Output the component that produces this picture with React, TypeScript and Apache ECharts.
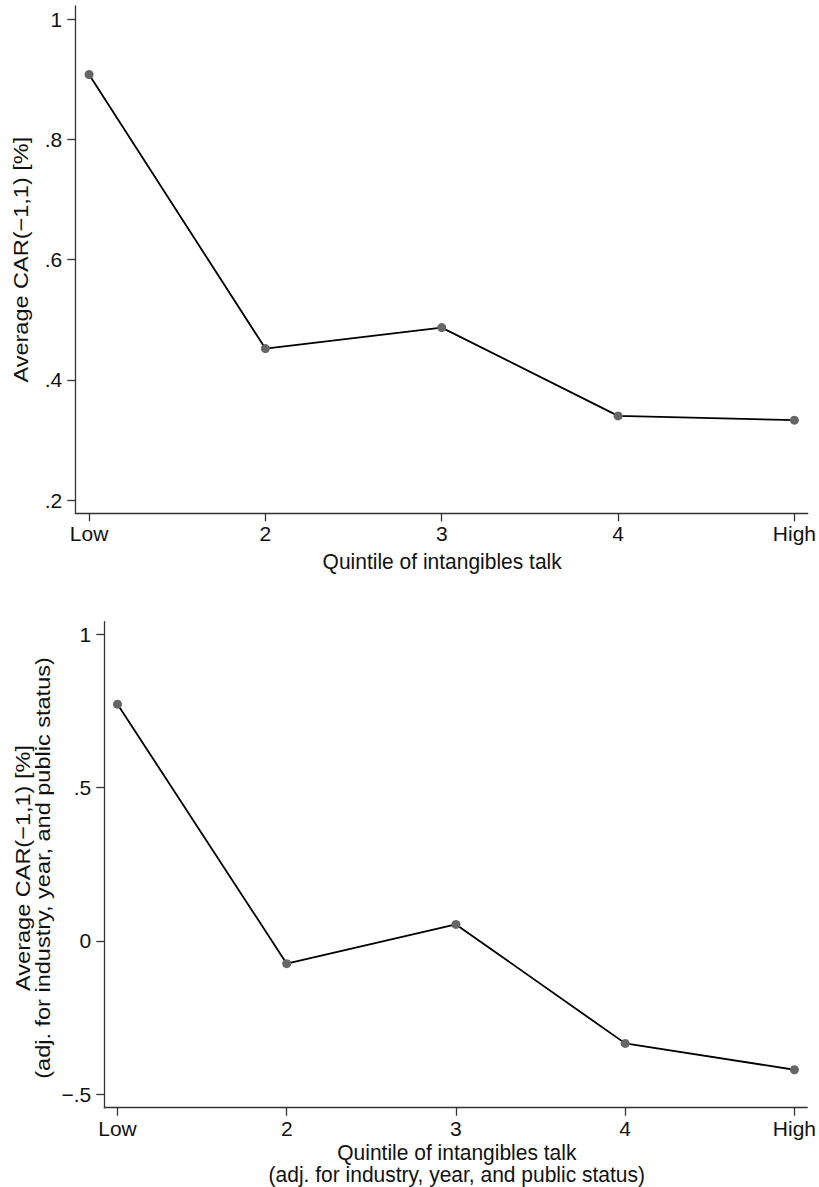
import React, { useEffect, useRef } from "react";
import * as echarts from "echarts";

const categories = ["Low", "2", "3", "4", "High"];
const categoryPositions = [0, 1, 2, 3, 4];

const topValues = [0.908, 0.452, 0.487, 0.34, 0.333];
const bottomValues = [0.772, -0.074, 0.054, -0.334, -0.42];

const topYTicks = [0.2, 0.4, 0.6, 0.8, 1];
const topYTickLabels = [".2", ".4", ".6", ".8", "1"];
const bottomYTicks = [-0.5, 0, 0.5, 1];
const bottomYTickLabels = ["\u2212.5", "0", ".5", "1"];

const topYTitle = "Average CAR(\u22121,1) [%]";
const bottomYTitle1 = "Average CAR(\u22121,1) [%]";
const bottomYTitle2 = "(adj. for industry, year, and public status)";
const topXTitle = "Quintile of intangibles talk";
const bottomXTitle1 = "Quintile of intangibles talk";
const bottomXTitle2 = "(adj. for industry, year, and public status)";

const FONT = '"Liberation Sans", Arial, Helvetica, sans-serif';
const TEXT = "#111";
const AXIS = "#333";
const FS = 21;

function labelFor(ticks: number[], labels: string[]) {
  return (v: number) => {
    const i = ticks.findIndex((t) => Math.abs(t - v) < 1e-6);
    return i >= 0 ? labels[i] : "";
  };
}

function makeX(gridIndex: number) {
  return {
    gridIndex,
    type: "value",
    min: -0.078,
    max: 4.076,
    axisLine: { show: true, onZero: false, lineStyle: { color: AXIS, width: 1.3 } },
    axisTick: { show: true, customValues: categoryPositions, length: 8, lineStyle: { color: AXIS, width: 1.3 } },
    axisLabel: {
      customValues: categoryPositions,
      formatter: (v: number) => categories[Math.round(v)],
      margin: 10,
      fontSize: FS,
      fontFamily: FONT,
      color: TEXT,
    },
    splitLine: { show: false },
  };
}

function makeY(gridIndex: number, min: number, max: number, ticks: number[], labels: string[]) {
  return {
    gridIndex,
    type: "value",
    min,
    max,
    axisLine: { show: true, onZero: false, lineStyle: { color: AXIS, width: 1.3 } },
    axisTick: { show: true, customValues: ticks, length: 8, lineStyle: { color: AXIS, width: 1.3 } },
    axisLabel: {
      customValues: ticks,
      formatter: labelFor(ticks, labels),
      margin: 13,
      fontSize: FS,
      fontFamily: FONT,
      color: TEXT,
    },
    splitLine: { show: false },
  };
}

function makeSeries(idx: number, values: number[]) {
  return {
    type: "line",
    xAxisIndex: idx,
    yAxisIndex: idx,
    data: values.map((v, i) => [categoryPositions[i], v]),
    symbol: "circle",
    symbolSize: 9,
    itemStyle: { color: "#666666" },
    lineStyle: { color: "#000000", width: 1.8 },
    emphasis: { disabled: true },
  };
}

function titleText(text: string, x: number, y: number, rotate: boolean) {
  return {
    type: "text",
    x,
    y,
    rotation: rotate ? Math.PI / 2 : 0,
    scaleX: rotate ? 1.12 : 1,
    scaleY: rotate ? 1 : 1.08,
    style: {
      text,
      fontSize: FS,
      fontFamily: FONT,
      fill: TEXT,
      align: "center",
      verticalAlign: "middle",
      textAlign: "center",
      textVerticalAlign: "middle",
    },
  };
}

export default function App() {
  const ref = useRef<HTMLDivElement>(null);
  useEffect(() => {
    document.body.style.margin = "0";
    const chart = echarts.init(ref.current!, null, { renderer: "svg" });
    const g0 = { left: 75.3, top: 6, width: 733.7, height: 507.3 };
    const g1 = { left: 104.3, top: 621.7, width: 705, height: 486 };
    chart.setOption({
      animation: false,
      backgroundColor: "#ffffff",
      grid: [g0, g1].map((g) => ({ ...g, containLabel: false })),
      xAxis: [makeX(0), makeX(1)],
      yAxis: [
        makeY(0, 0.178, 1.022, topYTicks, topYTickLabels),
        makeY(1, -0.5437, 1.041, bottomYTicks, bottomYTickLabels),
      ],
      series: [makeSeries(0, topValues), makeSeries(1, bottomValues)],
      graphic: [
        titleText(topYTitle, 21, g0.top + g0.height / 2, true),
        titleText(topXTitle, g0.left + g0.width / 2, 561, false),
        titleText(bottomYTitle1, 22.5, 868, true),
        titleText(bottomYTitle2, 43, 868, true),
        titleText(bottomXTitle1, g1.left + g1.width / 2, 1152, false),
        titleText(bottomXTitle2, g1.left + g1.width / 2, 1174, false),
      ],
    });
    return () => chart.dispose();
  }, []);
  return (
    <div
      ref={ref}
      style={{ position: "absolute", left: 0, top: 0, width: 819, height: 1187 }}
    />
  );
}
